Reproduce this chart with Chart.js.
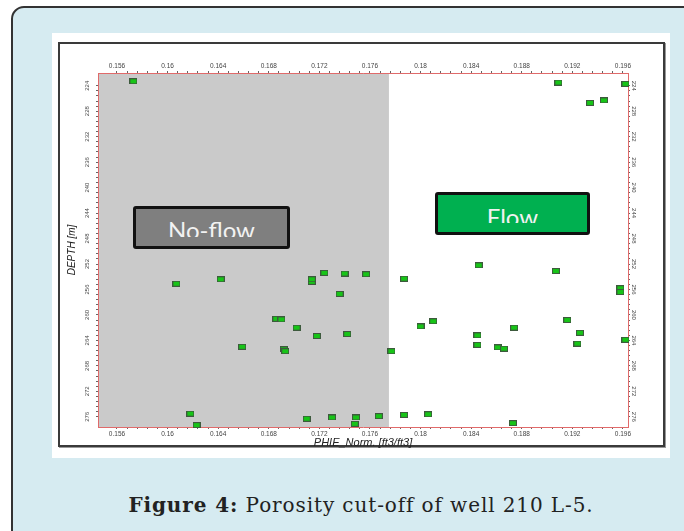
<!DOCTYPE html>
<html>
<head>
<meta charset="utf-8">
<script src="https://cdn.jsdelivr.net/npm/chart.js@4.4.0/dist/chart.umd.min.js"></script>
<style>
  html, body { margin: 0; padding: 0; background: #fff; }
  body { width: 684px; height: 531px; position: relative; overflow: hidden; font-family: "Liberation Sans", Arial, sans-serif; }
  #panel { position: absolute; left: 11px; top: 6px; width: 700px; height: 560px; background: #d6ebf1; border: 2px solid #333; border-radius: 13px; box-sizing: border-box; }
  #sheet { position: absolute; left: 52px; top: 33px; width: 618px; height: 425px; background: #fff; }
  #frame { position: absolute; left: 58px; top: 42px; width: 607px; height: 405px; border: 2px solid #3a3a3a; box-sizing: border-box; box-shadow: 1px 1px 0 #999; }
  #chartBox { position: absolute; left: 52px; top: 33px; width: 618px; height: 425px; }
  .tag { position: absolute; border: 3px solid #111; border-radius: 3px; box-sizing: border-box; }
  .tag .clip { position: absolute; left: 0; right: 0; top: 0; overflow: hidden; text-align: center; }
  .tag span { display: block; font-family: Lato, "Open Sans", sans-serif; font-size: 24px; line-height: 24px; color: #f2f2f2; }
  #caption { position: absolute; left: 19px; width: 684px; top: 493px; text-align: center; font-family: "DejaVu Serif", "Liberation Serif", serif; font-size: 20px; letter-spacing: 0.9px; color: #222; }
</style>
</head>
<body>
<div id="panel"></div>
<div id="sheet"></div>
<div id="frame"></div>
<div id="chartBox"><canvas id="chart" width="618" height="425"></canvas></div>
<div class="tag" style="left:133px; top:206px; width:157px; height:43px; background:#7f7f7f;">
  <div class="clip" style="height:28px;"><span style="margin-top:9px;">No-flow</span></div>
</div>
<div class="tag" style="left:435px; top:192px; width:155px; height:43px; background:#00b050;">
  <div class="clip" style="height:28px;"><span style="margin-top:10px;">Flow</span></div>
</div>
<div id="caption"><b>Figure 4:</b> Porosity cut-off of well 210 L-5.</div>

<script>
// porosity (PHIE_Norm) and depth
const phie = [
  0.1573, 0.1909, 0.1934, 0.1945, 0.1962,
  0.1607, 0.1642, 0.1714, 0.1714, 0.1724, 0.1740, 0.1757, 0.1736,
  0.1787, 0.1846, 0.1907, 0.1958, 0.1958,
  0.1686, 0.1690, 0.1702, 0.1718, 0.1742, 0.1659, 0.1692, 0.1693,
  0.1618, 0.1623, 0.1710, 0.1730, 0.1749, 0.1748, 0.1767,
  0.1777, 0.1800, 0.1810, 0.1845, 0.1845, 0.1861, 0.1866, 0.1874,
  0.1916, 0.1926, 0.1924, 0.1962, 0.1787, 0.1806, 0.1873
];
const depth = [
  223.3, 223.5, 226.7, 226.3, 223.7,
  255.1, 254.4, 254.8, 254.4, 253.4, 253.5, 253.6, 256.7,
  254.3, 252.2, 253.1, 255.8, 256.4,
  260.6, 260.7, 262.0, 263.3, 263.0, 265.0, 265.4, 265.7,
  275.5, 277.3, 276.3, 276.1, 276.1, 277.1, 275.9,
  265.7, 261.8, 261.0, 263.2, 264.7, 265.1, 265.3, 262.0,
  260.8, 262.8, 264.5, 263.9, 275.7, 275.6, 277.0
];
const phieLabels = [0.156, 0.16, 0.164, 0.168, 0.172, 0.176, 0.18, 0.184, 0.188, 0.192, 0.196];
const depthLabels = [224, 228, 232, 236, 240, 244, 248, 252, 256, 260, 264, 268, 272, 276];
const phieCutoff = 0.1775;

// major ticks plus 4 minor ticks between each pair
function withMinors(majors) {
  const out = [];
  majors.forEach((v, i) => {
    out.push({ value: v });
    if (i < majors.length - 1) {
      const step = (majors[i + 1] - v) / 5;
      for (let k = 1; k < 5; k++) out.push({ value: v + k * step });
    }
  });
  return out;
}

const marker = document.createElement("canvas");
marker.width = 8;
marker.height = 6;
const mctx = marker.getContext("2d");
mctx.fillStyle = "#3d5a3d";
mctx.fillRect(0, 0, 8, 6);
mctx.fillStyle = "#17c417";
mctx.fillRect(1, 1, 6, 4);

const tickFont = { family: "'Liberation Sans', Arial, sans-serif", size: 6.5 };
const borderStyle = { color: "#e06a6a", dash: [2, 2], width: 1 };
const gridStyle = { drawOnChartArea: false, tickLength: 2, color: "#666" };

const phieTickText = v => phieLabels.includes(v) ? String(v) : "";

// gray no-flow zone left of the cut-off
const zonePlugin = {
  id: "zone",
  beforeDraw(chart) {
    const { ctx, chartArea, scales } = chart;
    const xr = scales.x.getPixelForValue(phieCutoff);
    ctx.save();
    ctx.fillStyle = "#cacaca";
    ctx.fillRect(chartArea.left, chartArea.top, xr - chartArea.left, chartArea.bottom - chartArea.top);
    ctx.restore();
  }
};

// rotated depth labels on both sides
const depthTickPlugin = {
  id: "depthTicks",
  afterDraw(chart) {
    const { ctx, chartArea, scales } = chart;
    ctx.save();
    ctx.font = "6px 'Liberation Sans', Arial, sans-serif";
    ctx.fillStyle = "#444";
    ctx.textAlign = "center";
    ctx.textBaseline = "middle";
    depthLabels.forEach(d => {
      const py = scales.y.getPixelForValue(d);
      ctx.save();
      ctx.translate(chartArea.left - 11, py);
      ctx.rotate(-Math.PI / 2);
      ctx.fillText(String(d), 0, 0);
      ctx.restore();
      ctx.save();
      ctx.translate(chartArea.right + 6, py);
      ctx.rotate(Math.PI / 2);
      ctx.fillText(String(d), 0, 0);
      ctx.restore();
    });
    ctx.restore();
  }
};

new Chart(document.getElementById("chart"), {
  type: "scatter",
  data: {
    datasets: [{
      data: phie.map((v, i) => ({ x: v, y: depth[i] })),
      pointStyle: marker,
      pointRadius: 4,
      pointHoverRadius: 4,
      clip: false
    }]
  },
  options: {
    responsive: false,
    animation: false,
    events: [],
    layout: { padding: { left: 14, right: 28, top: 26, bottom: 8 } },
    plugins: { legend: { display: false }, tooltip: { enabled: false } },
    scales: {
      x: {
        type: "linear", position: "bottom", min: 0.1545, max: 0.1964,
        afterBuildTicks: s => { s.ticks = withMinors(phieLabels); },
        afterFit: s => { s.height = 23; },
        ticks: { autoSkip: false, maxRotation: 0, minRotation: 0, padding: 1, font: tickFont, color: "#444", callback: phieTickText },
        grid: gridStyle,
        border: borderStyle,
        title: { display: true, text: "PHIE_Norm. [ft3/ft3]", font: { family: "'Liberation Sans', Arial, sans-serif", size: 11, style: "italic" }, color: "#222", padding: 0 }
      },
      x2: {
        axis: "x", type: "linear", position: "top", min: 0.1545, max: 0.1964,
        afterBuildTicks: s => { s.ticks = withMinors(phieLabels); },
        afterFit: s => { s.height = 14; },
        ticks: { autoSkip: false, maxRotation: 0, minRotation: 0, padding: 1, font: tickFont, color: "#444", callback: phieTickText },
        grid: gridStyle,
        border: borderStyle
      },
      y: {
        type: "linear", position: "left", reverse: true, min: 222, max: 277.6,
        afterBuildTicks: s => { s.ticks = withMinors(depthLabels); },
        afterFit: s => { s.width = 32; },
        ticks: { display: false },
        grid: gridStyle,
        border: borderStyle,
        title: { display: true, text: "DEPTH [m]", font: { family: "'Liberation Sans', Arial, sans-serif", size: 10, style: "italic" }, color: "#222", padding: 0 }
      },
      y2: {
        axis: "y", type: "linear", position: "right", reverse: true, min: 222, max: 277.6,
        afterBuildTicks: s => { s.ticks = withMinors(depthLabels); },
        afterFit: s => { s.width = 14; },
        ticks: { display: false },
        grid: gridStyle,
        border: borderStyle
      }
    }
  },
  plugins: [zonePlugin, depthTickPlugin]
});
</script>
</body>
</html>
